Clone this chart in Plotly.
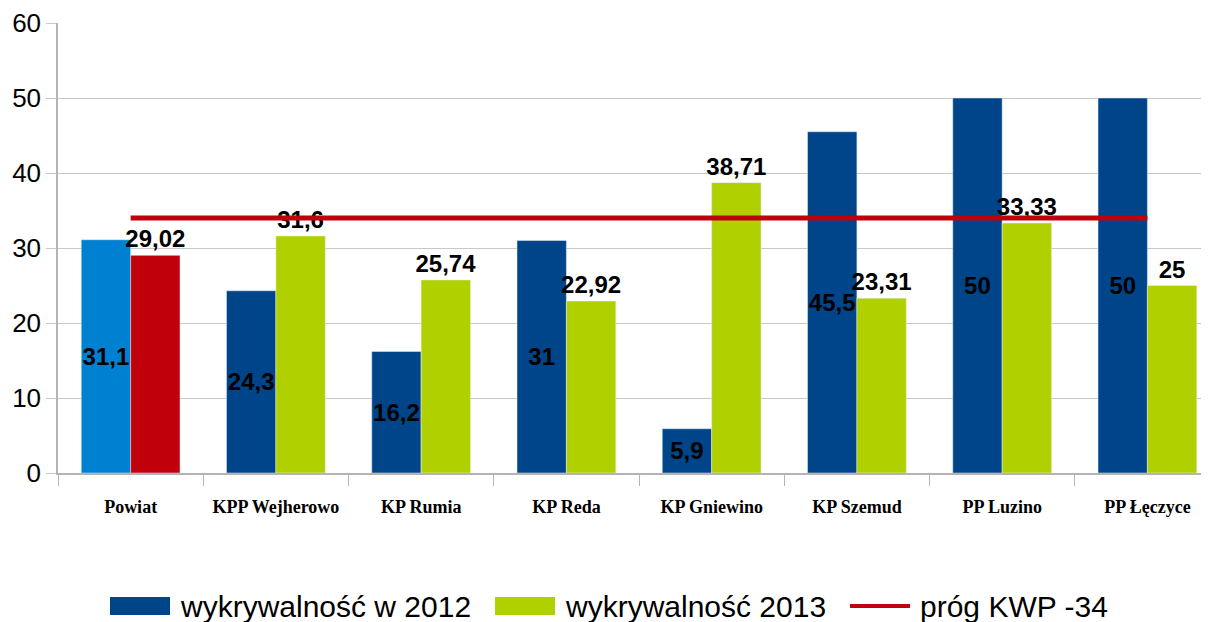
import plotly.graph_objects as go

categories = ["Powiat", "KPP Wejherowo", "KP Rumia", "KP Reda", "KP Gniewino",
              "KP Szemud", "PP Luzino", "PP Łęczyce"]
v2012 = [31.1, 24.3, 16.2, 31, 5.9, 45.5, 50, 50]
v2013 = [29.02, 31.6, 25.74, 22.92, 38.71, 23.31, 33.33, 25]
threshold = [34] * len(categories)
y_ticks = [0, 10, 20, 30, 40, 50, 60]
legend_names = ["wykrywalność w 2012", "wykrywalność 2013", "próg KWP -34"]

def fmt(v):
    return str(v).replace(".", ",")

C_BLUE = "#00458a"
C_GREEN = "#b0d000"
C_RED = "#c0000b"
C_LBLUE = "#0080d0"
LABEL_FONT = dict(family="Liberation Sans, Arial", size=24, color="black", weight="bold")

# page has an 8px body margin: figure is placed at (8, 8) in the window
OFF = 8
FIG_W, FIG_H = 1209 - OFF, 622 - OFF
L, T = 58 - OFF, 23 - OFF
PLOT_H = 450
B = FIG_H - T - PLOT_H
PLOT_W = FIG_W - L

def px(sx):  # screen x -> paper x
    return (sx - 58) / PLOT_W

def py(sy):  # screen y -> paper y
    return (473 - sy) / PLOT_H

fig = go.Figure()

fig.add_trace(go.Bar(
    x=categories[:1], y=v2012[:1], offsetgroup="a", marker_color=C_LBLUE,
    text=[fmt(v) for v in v2012[:1]], textposition="inside", insidetextanchor="middle",
    textangle=0, textfont=LABEL_FONT, showlegend=False, cliponaxis=False))
fig.add_trace(go.Bar(
    x=categories[:1], y=v2013[:1], offsetgroup="b", marker_color=C_RED,
    text=[fmt(v) for v in v2013[:1]], textposition="outside", textangle=0,
    textfont=LABEL_FONT, showlegend=False, cliponaxis=False))
fig.add_trace(go.Bar(
    x=categories[1:], y=v2012[1:], offsetgroup="a", marker_color=C_BLUE,
    name=legend_names[0], showlegend=False,
    text=[fmt(v) for v in v2012[1:]], textposition="inside", insidetextanchor="middle",
    textangle=0, textfont=LABEL_FONT, cliponaxis=False))
fig.add_trace(go.Bar(
    x=categories[1:], y=v2013[1:], offsetgroup="b", marker_color=C_GREEN,
    name=legend_names[1], showlegend=False,
    text=[fmt(v) for v in v2013[1:]], textposition="outside", textangle=0,
    textfont=LABEL_FONT, cliponaxis=False))
fig.add_trace(go.Scatter(
    x=categories, y=threshold, mode="lines", name=legend_names[2], showlegend=False,
    line=dict(color=C_RED, width=5)))

# manual legend (wide swatches as in the reference)
LEG_FONT = dict(family="Liberation Sans, Arial", size=30, color="black")
swatches = [(110, 170, C_BLUE, "rect"), (495, 555, C_GREEN, "rect"), (850, 910, C_RED, "line")]
text_x = [178, 563, 918]
shapes = []
annotations = []
for (x0, x1, col, kind), tx, name in zip(swatches, text_x, legend_names):
    if kind == "rect":
        shapes.append(dict(type="rect", xref="paper", yref="paper",
                           x0=px(x0), x1=px(x1), y0=py(615), y1=py(597),
                           fillcolor=col, line=dict(width=0)))
    else:
        shapes.append(dict(type="line", xref="paper", yref="paper",
                           x0=px(x0), x1=px(x1), y0=py(606), y1=py(606),
                           line=dict(color=col, width=4)))
    annotations.append(dict(text=name, xref="paper", yref="paper", x=px(tx), y=py(606),
                            xanchor="left", yanchor="middle", showarrow=False,
                            font=LEG_FONT))

fig.update_layout(
    width=FIG_W, height=FIG_H,
    margin=dict(l=L, r=0, t=T, b=B, autoexpand=False),
    paper_bgcolor="white", plot_bgcolor="white",
    barmode="group", bargap=0.32, bargroupgap=0,
    uniformtext=dict(mode=False),
    font=dict(family="Liberation Sans, Arial", color="black"),
    showlegend=False,
    shapes=shapes, annotations=annotations,
)
fig.update_traces(constraintext="none", selector=dict(type="bar"))
fig.update_xaxes(
    type="category", range=[-0.5, 7.424], automargin=False,
    tickmode="array", tickvals=categories,
    ticktext=["<b>" + c + "</b>" for c in categories],
    tickfont=dict(family="Liberation Serif, Times New Roman", size=18, color="black"),
    tickson="boundaries", ticks="outside", ticklen=11, tickcolor="#b4b4b4",
    showline=True, linecolor="#b4b4b4", linewidth=1.5, showgrid=False,
    ticklabelstandoff=17,
)
fig.update_yaxes(
    range=[0, 60], tickmode="array", tickvals=y_ticks, automargin=False,
    tickfont=dict(family="Liberation Sans, Arial", size=26, color="black"),
    ticks="outside", ticklen=10, tickcolor="#c8c8c8",
    showline=True, linecolor="#b4b4b4", linewidth=1.5,
    showgrid=True, gridcolor="#c8c8c8", gridwidth=1.2, zeroline=False,
)

fig.write_html("out.html")
